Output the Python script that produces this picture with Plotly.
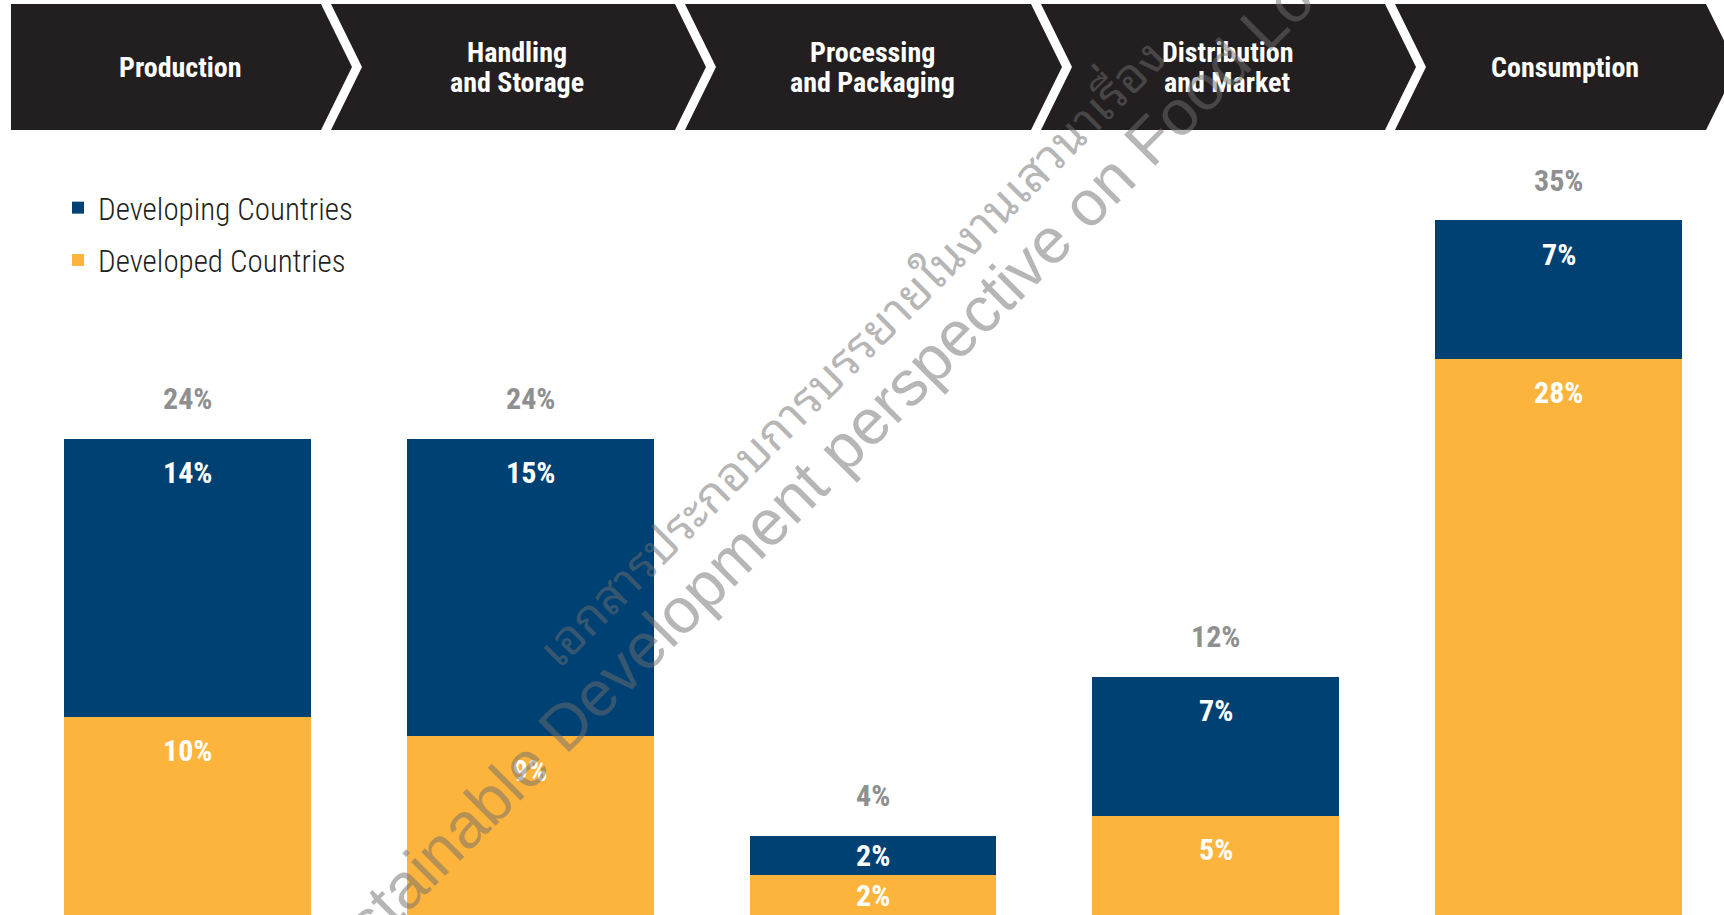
import plotly.graph_objects as go

# ---- data -------------------------------------------------------------
stages = ["Production", "Handling and Storage", "Processing and Packaging",
          "Distribution and Market", "Consumption"]
stage_headers = [["Production"], ["Handling", "and Storage"], ["Processing", "and Packaging"],
                 ["Distribution", "and Market"], ["Consumption"]]
developed = [10, 9, 2, 5, 28]      # Developed Countries (bottom segment)
developing = [14, 15, 2, 7, 7]     # Developing Countries (top segment)
totals = [24, 24, 4, 12, 35]

# ---- styling ----------------------------------------------------------
W, H = 1724, 915
BLUE = "#004174"
YELLOW = "#FDB43C"
DARK = "#231F20"
GREY = "#8F8F8F"
COND = "Roboto Condensed, Liberation Sans Narrow, DejaVu Sans Condensed, sans-serif"
THAI = "Noto Sans Thai Looped, Loma, Garuda, Noto Sans Thai, sans-serif"

def px(x):
    return x / W

def py(y):
    return 1 - y / H

fig = go.Figure()
fig.add_trace(go.Bar(x=stages, y=developed, name="Developed Countries",
                     marker=dict(color=YELLOW, line=dict(width=0)),
                     legendgroup="developed", legendrank=2, hoverinfo="skip"))
fig.add_trace(go.Bar(x=stages, y=developing, name="Developing Countries",
                     marker=dict(color=BLUE, line=dict(width=0)),
                     legendgroup="developing", legendrank=1, hoverinfo="skip"))

annotations = []
# segment labels near the top of each segment, totals above the bars
for i, s in enumerate(stages):
    base = 0
    for v in (developed[i], developing[i]):
        top = base + v
        annotations.append(dict(x=s, y=top - min(1.7, v / 2), xref="x", yref="y",
                                text=f"<b>{v}%</b>", showarrow=False,
                                xanchor="center", yanchor="middle",
                                font=dict(family=COND, size=30, color="white")))
        base = top
    annotations.append(dict(x=s, y=totals[i], xref="x", yref="y", yshift=40,
                            text=f"<b>{totals[i]}%</b>", showarrow=False,
                            xanchor="center", yanchor="middle",
                            font=dict(family=COND, size=30, color=GREY)))

# header chevrons for the supply-chain stages
top_y, mid_y, bot_y = 4, 67, 130
seps = [326, 680, 1036, 1390]
gap, depth = 5, 31
left_edge, right_edge = 11, 1706
line_step = 30
shapes = []
lefts = [left_edge] + [c + gap for c in seps]
rights = [c - gap for c in seps] + [right_edge]
for k in range(5):
    L, R = lefts[k], rights[k]
    pts = [(L, top_y), (R, top_y), (R + depth, mid_y), (R, bot_y), (L, bot_y)]
    if k > 0:
        pts.append((L + depth, mid_y))
    path = "M " + " L ".join(f"{px(a):.5f},{py(b):.5f}" for a, b in pts) + " Z"
    shapes.append(dict(type="path", path=path, xref="paper", yref="paper",
                       fillcolor=DARK, line=dict(width=0), layer="below"))
    lines = stage_headers[k]
    n = len(lines)
    for j, txt in enumerate(lines):
        yc = mid_y + (j - (n - 1) / 2) * line_step
        annotations.append(dict(x=px((L + R) / 2 + 14), y=py(yc), xref="paper", yref="paper",
                                text=f"<b>{txt}</b>", showarrow=False,
                                xanchor="center", yanchor="middle",
                                font=dict(family=COND, size=28, color="white")))

# diagonal document stamp
annotations.append(dict(x=px(824), y=py(466), xref="paper", yref="paper",
                        text="Sustainable Development perspective on Food Loss",
                        textangle=-45, showarrow=False, xanchor="center", yanchor="middle",
                        font=dict(family="Liberation Sans, Arial, sans-serif", size=64,
                                  color="rgba(110,110,110,0.5)")))
annotations.append(dict(x=px(848), y=py(350), xref="paper", yref="paper",
                        text="เอกสารประกอบการบรรยายในงานเสวนาเรื่อง",
                        textangle=-45, showarrow=False, xanchor="center", yanchor="middle",
                        font=dict(family=THAI, size=48, color="rgba(110,110,110,0.5)")))

fig.update_layout(
    width=W, height=H,
    margin=dict(l=0, r=0, t=0, b=0),
    paper_bgcolor="white", plot_bgcolor="white",
    barmode="stack", bargap=0.28,
    xaxis=dict(type="category", range=[-0.547, 4.4825], visible=False, fixedrange=True),
    yaxis=dict(range=[0, 46.1], visible=False, fixedrange=True),
    showlegend=True,
    legend=dict(x=px(58), y=py(181), xanchor="left", yanchor="top",
                traceorder="grouped", tracegroupgap=9,
                bgcolor="rgba(0,0,0,0)", borderwidth=0,
                font=dict(family=COND, size=31, color=DARK, weight=300)),
    shapes=shapes,
    annotations=annotations,
)

fig.write_html("out.html", config={"displayModeBar": False})
